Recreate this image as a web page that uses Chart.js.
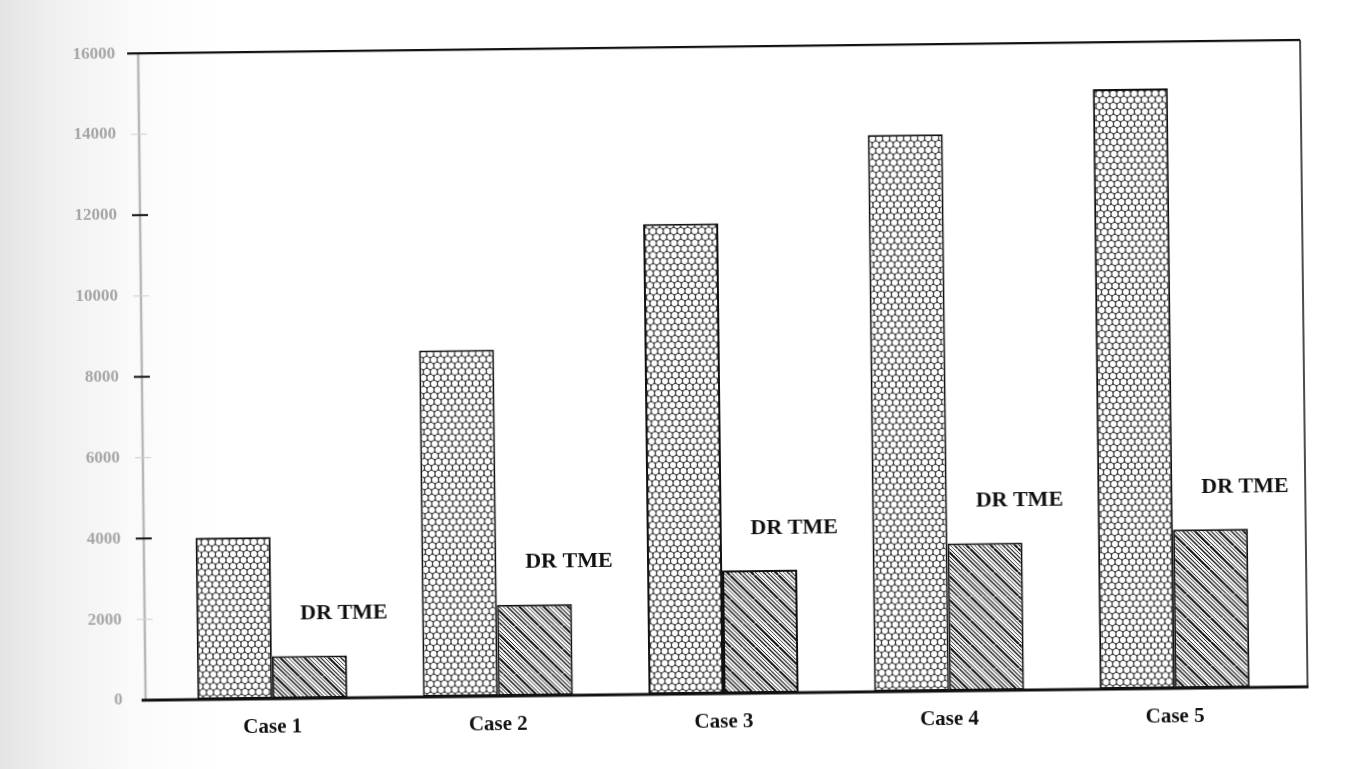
<!DOCTYPE html>
<html>
<head>
<meta charset="utf-8">
<script src="https://cdn.jsdelivr.net/npm/chart.js@4"></script>
<style>
  html, body { margin: 0; padding: 0; }
  body {
    width: 1363px; height: 769px; overflow: hidden;
    background: linear-gradient(to right, #e4e4e4 0px, #efefef 50px, #fafafa 130px, #ffffff 220px);
  }
  #wrap { position: absolute; left: 0; top: 0; width: 1363px; height: 769px; transform: rotate(-0.66deg); transform-origin: 50% 50%; }
</style>
</head>
<body>
<div id="wrap"><canvas id="myChart" width="1363" height="769"></canvas></div>
<script>
const categorias = ["Case 1", "Case 2", "Case 3", "Case 4", "Case 5"];
const valoresTotal = [4000, 8570, 11630, 13770, 14840];
const valoresDrTme = [1050, 2260, 3040, 3650, 3930];
const rotuloDrTme = "DR TME";
const yMin = 0;
const yMax = 16000;
const yPasso = 2000;

// padrao hexagonal (celulas brancas com contorno preto)
function padraoHex() {
  const c = document.createElement("canvas");
  c.width = 7; c.height = 12;
  const g = c.getContext("2d");
  g.fillStyle = "#444";
  g.fillRect(0, 0, 7, 12);
  g.fillStyle = "#ffffff";
  [[3.5, 3], [0, 9], [7, 9], [3.5, 15], [3.5, -3]].forEach(([x, y]) => {
    g.beginPath();
    g.arc(x, y, 2.95, 0, Math.PI * 2);
    g.fill();
  });
  return g.createPattern(c, "repeat");
}

// padrao de linhas diagonais
function padraoHachura() {
  const c = document.createElement("canvas");
  c.width = 24; c.height = 24;
  const g = c.getContext("2d");
  g.fillStyle = "#ffffff";
  g.fillRect(0, 0, 24, 24);
  g.strokeStyle = "#111";
  const larguras = [1.1, 0.9, 2.2, 1.0, 0.8, 1.4];
  for (let i = -6; i < 12; i++) {
    const off = i * 4;
    g.lineWidth = larguras[((i % 6) + 6) % 6];
    g.beginPath();
    g.moveTo(off, 0);
    g.lineTo(off + 24, 24);
    g.stroke();
  }
  return g.createPattern(c, "repeat");
}

const moldura = {
  id: "moldura",
  afterDraw(chart) {
    const { ctx, chartArea: a, scales } = chart;
    const y = scales.y;
    const esq = a.left - 14;
    const dir = a.right + 20;
    ctx.save();
    ctx.lineCap = "butt";

    // eixo y cinza
    ctx.strokeStyle = "#b8b8b8";
    ctx.lineWidth = 2.5;
    ctx.beginPath(); ctx.moveTo(esq, a.top); ctx.lineTo(esq, a.bottom); ctx.stroke();

    // marcas
    for (let v = yMin + yPasso; v < yMax; v += yPasso) {
      const py = y.getPixelForValue(v);
      const maior = v % (yPasso * 2) === 0;
      ctx.strokeStyle = maior ? "#111" : "#cfcfcf";
      ctx.lineWidth = maior ? 2 : 1;
      ctx.beginPath(); ctx.moveTo(esq - 8, py); ctx.lineTo(esq + 8, py); ctx.stroke();
    }

    ctx.strokeStyle = "#111";
    ctx.lineWidth = 2.2;
    ctx.beginPath(); ctx.moveTo(esq - 11, a.top); ctx.lineTo(dir, a.top); ctx.stroke();
    ctx.lineWidth = 1.5;
    ctx.beginPath(); ctx.moveTo(dir, a.top); ctx.lineTo(dir, a.bottom); ctx.stroke();
    ctx.lineWidth = 3;
    ctx.beginPath(); ctx.moveTo(esq - 4, a.bottom); ctx.lineTo(dir + 1, a.bottom); ctx.stroke();

    // rotulos DR TME
    ctx.fillStyle = "#111";
    ctx.font = "bold 22px 'Liberation Serif', 'Times New Roman', serif";
    ctx.textAlign = "center";
    ctx.textBaseline = "middle";
    chart.getDatasetMeta(1).data.forEach((barra) => {
      ctx.fillText(rotuloDrTme, barra.x + 35, barra.y - 42);
    });
    ctx.restore();
  },
};

const ctx = document.getElementById("myChart");

new Chart(ctx, {
  type: "bar",
  data: {
    labels: categorias,
    datasets: [
      {
        label: "Total",
        data: valoresTotal,
        backgroundColor: padraoHex(),
        borderColor: "#111",
        borderWidth: 2,
        borderSkipped: false,
      },
      {
        label: rotuloDrTme,
        data: valoresDrTme,
        backgroundColor: padraoHachura(),
        borderColor: "#111",
        borderWidth: 2,
        borderSkipped: false,
      },
    ],
  },
  options: {
    responsive: false,
    animation: false,
    layout: { padding: { top: 47, right: 79, left: 0, bottom: 0 } },
    plugins: { legend: { display: false }, tooltip: { enabled: false } },
    datasets: { bar: { categoryPercentage: 0.665, barPercentage: 1 } },
    scales: {
      x: {
        grid: { display: false, drawTicks: false },
        border: { display: false },
        ticks: {
          padding: 16,
          color: "#111",
          font: { family: "'Liberation Serif', serif", size: 21, weight: "bold" },
        },
        afterFit(scale) { scale.height = 75; },
      },
      y: {
        min: yMin,
        max: yMax,
        grid: { display: false, drawTicks: false },
        border: { display: false },
        ticks: {
          stepSize: yPasso,
          padding: 37,
          color: "#a6a6a6",
          font: { family: "'Liberation Serif', serif", size: 17, weight: "bold" },
          callback: (v) => String(v),
        },
        afterFit(scale) { scale.width = 156; },
      },
    },
  },
  plugins: [moldura],
});
</script>
</body>
</html>
